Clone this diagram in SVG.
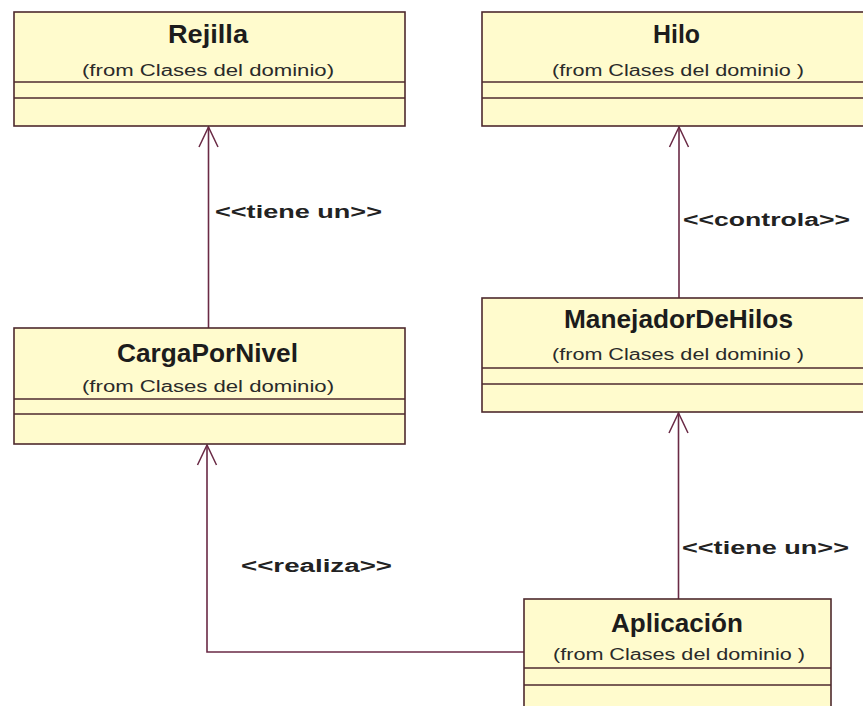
<svg xmlns="http://www.w3.org/2000/svg" width="863" height="706" viewBox="0 0 863 706">
  <style>
    .box { fill: #fffbcd; stroke: #4e2a2e; stroke-width: 1.6; }
    .sep { stroke: #4e2a2e; stroke-width: 1.6; }
    .title { font-family: "Liberation Sans", Arial, sans-serif; font-weight: bold; font-size: 25px; fill: #1c1c1c; text-anchor: middle; }
    .from { font-family: "Liberation Sans", Arial, sans-serif; font-size: 16px; fill: #2a2a2a; text-anchor: middle; }
    .lbl { font-family: "Liberation Sans", Arial, sans-serif; font-weight: bold; font-size: 18px; fill: #222; }
    .conn { fill: none; stroke: #6a2a45; stroke-width: 1.6; }
  </style>
  <defs>
    <!-- open arrowhead, tip at the end of the path -->
    <marker id="open" viewBox="-22 -12 24 24" refX="0" refY="0" markerWidth="24" markerHeight="24" markerUnits="userSpaceOnUse" orient="auto">
      <path d="M-20,-9.5 L0,0 L-20,9.5" fill="none" stroke="#6a2a45" stroke-width="1.5"/>
    </marker>
  </defs>
  <rect width="863" height="706" fill="#ffffff"/>

  <!-- dependencies between classes -->
  <g id="connectors">
    <line class="conn" x1="208.5" y1="328" x2="208.5" y2="127" marker-end="url(#open)"/>
    <line class="conn" x1="679" y1="298" x2="679" y2="127" marker-end="url(#open)"/>
    <line class="conn" x1="678.5" y1="599" x2="678.5" y2="413" marker-end="url(#open)"/>
    <polyline class="conn" points="524,652 207,652 207,445" marker-end="url(#open)"/>
    <text class="lbl" x="215" y="218" textLength="167" lengthAdjust="spacingAndGlyphs">&lt;&lt;tiene un&gt;&gt;</text>
    <text class="lbl" x="683" y="226" textLength="167" lengthAdjust="spacingAndGlyphs">&lt;&lt;controla&gt;&gt;</text>
    <text class="lbl" x="682" y="554" textLength="167" lengthAdjust="spacingAndGlyphs">&lt;&lt;tiene un&gt;&gt;</text>
    <text class="lbl" x="241" y="572" textLength="151" lengthAdjust="spacingAndGlyphs">&lt;&lt;realiza&gt;&gt;</text>
  </g>

  <g id="Rejilla">
    <rect class="box" x="14" y="12" width="391" height="114"/>
    <line class="sep" x1="14" y1="82" x2="405" y2="82"/>
    <line class="sep" x1="14" y1="98" x2="405" y2="98"/>
    <text class="title" x="208" y="43" textLength="80" lengthAdjust="spacingAndGlyphs">Rejilla</text>
    <text class="from" x="208" y="76" textLength="252" lengthAdjust="spacingAndGlyphs">(from Clases del dominio)</text>
  </g>

  <g id="Hilo">
    <rect class="box" x="482" y="12" width="392" height="114"/>
    <line class="sep" x1="482" y1="82" x2="874" y2="82"/>
    <line class="sep" x1="482" y1="98" x2="874" y2="98"/>
    <text class="title" x="676.5" y="43" textLength="47" lengthAdjust="spacingAndGlyphs">Hilo</text>
    <text class="from" x="678" y="76" textLength="252" lengthAdjust="spacingAndGlyphs">(from Clases del dominio )</text>
  </g>

  <g id="CargaPorNivel">
    <rect class="box" x="14" y="328" width="391" height="116"/>
    <line class="sep" x1="14" y1="399" x2="405" y2="399"/>
    <line class="sep" x1="14" y1="414" x2="405" y2="414"/>
    <text class="title" x="207.5" y="362" textLength="181" lengthAdjust="spacingAndGlyphs">CargaPorNivel</text>
    <text class="from" x="208" y="392" textLength="252" lengthAdjust="spacingAndGlyphs">(from Clases del dominio)</text>
  </g>

  <g id="ManejadorDeHilos">
    <rect class="box" x="482" y="298" width="392" height="114"/>
    <line class="sep" x1="482" y1="368" x2="874" y2="368"/>
    <line class="sep" x1="482" y1="384" x2="874" y2="384"/>
    <text class="title" x="678.5" y="328" textLength="229" lengthAdjust="spacingAndGlyphs">ManejadorDeHilos</text>
    <text class="from" x="678" y="360" textLength="252" lengthAdjust="spacingAndGlyphs">(from Clases del dominio )</text>
  </g>

  <g id="Aplicacion">
    <rect class="box" x="524" y="599" width="307" height="120"/>
    <line class="sep" x1="524" y1="668" x2="831" y2="668"/>
    <line class="sep" x1="524" y1="685" x2="831" y2="685"/>
    <text class="title" x="677" y="632" textLength="132" lengthAdjust="spacingAndGlyphs">Aplicación</text>
    <text class="from" x="679" y="660" textLength="252" lengthAdjust="spacingAndGlyphs">(from Clases del dominio )</text>
  </g>
</svg>
